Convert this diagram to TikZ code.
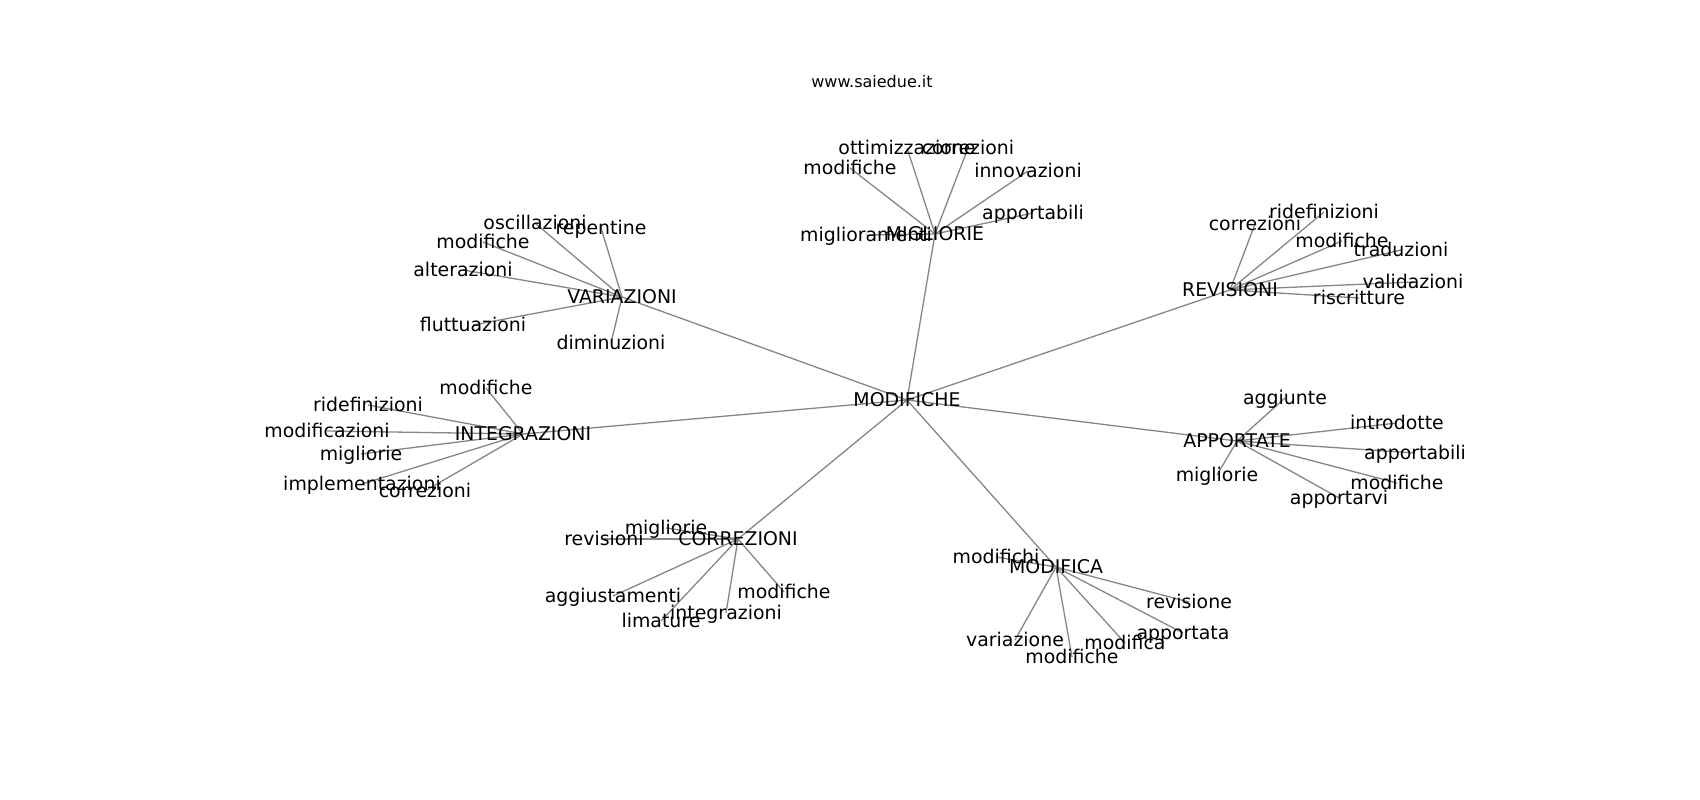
\documentclass[tikz,border=0pt]{standalone}
\usepackage{fontspec}
\setmainfont{DejaVu Sans}
\usetikzlibrary{backgrounds}
\tikzset{
  lbl/.style={inner sep=0pt, text=black, font=\fontsize{18.9}{22}\selectfont, text height=13.6pt, text depth=0pt},
  ttl/.style={inner sep=0pt, text=black, font=\fontsize{16}{19}\selectfont},
  edge/.style={draw=gray!95, line width=1.3pt}
}
\begin{document}
\begin{tikzpicture}[x=1pt,y=-1pt]
\useasboundingbox (0,0) rectangle (1700,800);
\node[ttl] (title) at (872,82) {www.saiedue.it};
% hubs
\node[lbl] (c) at (907,400) {MODIFICHE};
\node[lbl] (mig) at (935,234) {MIGLIORIE};
\node[lbl] (rev) at (1230,290) {REVISIONI};
\node[lbl] (var) at (622,297) {VARIAZIONI};
\node[lbl] (int) at (523,434) {INTEGRAZIONI};
\node[lbl] (cor) at (738,539) {CORREZIONI};
\node[lbl] (mod) at (1056,567) {MODIFICA};
\node[lbl] (app) at (1237,441) {APPORTATE};
% MIGLIORIE leaves
\node[lbl] (mig1) at (907,148) {ottimizzazione};
\node[lbl] (mig2) at (968,148) {correzioni};
\node[lbl] (mig3) at (850,168) {modifiche};
\node[lbl] (mig4) at (1028,171) {innovazioni};
\node[lbl] (mig5) at (1033,213) {apportabili};
\node[lbl] (mig6) at (866,235) {miglioramenti};
% REVISIONI leaves
\node[lbl] (rev1) at (1255,224) {correzioni};
\node[lbl] (rev2) at (1324,212) {ridefinizioni};
\node[lbl] (rev3) at (1342,241) {modifiche};
\node[lbl] (rev4) at (1401,250) {traduzioni};
\node[lbl] (rev5) at (1413,282) {validazioni};
\node[lbl] (rev6) at (1359,298) {riscritture};
% VARIAZIONI leaves
\node[lbl] (var1) at (535,223) {oscillazioni};
\node[lbl] (var2) at (601,228) {repentine};
\node[lbl] (var3) at (483,242) {modifiche};
\node[lbl] (var4) at (463,270) {alterazioni};
\node[lbl] (var5) at (473,325) {fluttuazioni};
\node[lbl] (var6) at (611,343) {diminuzioni};
% INTEGRAZIONI leaves
\node[lbl] (int1) at (486,388) {modifiche};
\node[lbl] (int2) at (368,405) {ridefinizioni};
\node[lbl] (int3) at (327,431) {modificazioni};
\node[lbl] (int4) at (361,454) {migliorie};
\node[lbl] (int5) at (362,484) {implementazioni};
\node[lbl] (int6) at (425,491) {correzioni};
% CORREZIONI leaves
\node[lbl] (cor1) at (604,539) {revisioni};
\node[lbl] (cor2) at (666,528) {migliorie};
\node[lbl] (cor3) at (613,596) {aggiustamenti};
\node[lbl] (cor4) at (661,621) {limature};
\node[lbl] (cor5) at (726,613) {integrazioni};
\node[lbl] (cor6) at (784,592) {modifiche};
% MODIFICA leaves
\node[lbl] (mod1) at (996,557) {modifichi};
\node[lbl] (mod2) at (1189,602) {revisione};
\node[lbl] (mod3) at (1183,633) {apportata};
\node[lbl] (mod4) at (1125,643) {modifica};
\node[lbl] (mod5) at (1072,657) {modifiche};
\node[lbl] (mod6) at (1015,640) {variazione};
% APPORTATE leaves
\node[lbl] (app1) at (1285,398) {aggiunte};
\node[lbl] (app2) at (1397,423) {introdotte};
\node[lbl] (app3) at (1415,453) {apportabili};
\node[lbl] (app4) at (1397,483) {modifiche};
\node[lbl] (app5) at (1339,498) {apportarvi};
\node[lbl] (app6) at (1217,475) {migliorie};
\begin{scope}[on background layer]
\fill[white] (0,0) rectangle (1700,800);
\foreach \h in {mig,rev,var,int,cor,mod,app}{
  \draw[edge] (c.center) -- (\h.center);
  \foreach \i in {1,...,6}{
    \draw[edge] (\h.center) -- (\h\i.center);
  }
}
\end{scope}
\end{tikzpicture}
\end{document}
